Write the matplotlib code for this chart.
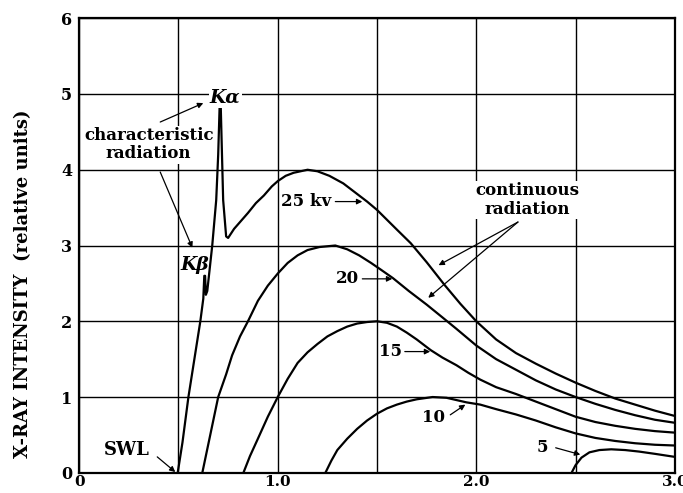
import numpy as np
from matplotlib import pyplot as plt

# Continuous spectra (wavelength in angstroms, intensity in relative units)
wl_25 = [0.496, 0.52, 0.55, 0.58, 0.61, 0.625, 0.630, 0.634, 0.638, 0.645, 0.67, 0.69,
         0.70, 0.707, 0.713, 0.725, 0.74, 0.75, 0.78, 0.82, 0.85, 0.89, 0.93, 0.97, 1.0,
         1.04, 1.08, 1.15, 1.2, 1.26, 1.33, 1.39, 1.45, 1.5, 1.55, 1.6, 1.67, 1.75, 1.84,
         1.92, 2.0, 2.1, 2.2, 2.3, 2.4, 2.5, 2.6, 2.7, 2.8, 2.9, 3.0]
i_25 = [0.0, 0.4, 1.0, 1.5, 2.0, 2.3, 2.6, 2.6, 2.35, 2.4, 3.0, 3.6,
        4.2, 4.82, 4.82, 3.6, 3.12, 3.1, 3.22, 3.34, 3.43, 3.56, 3.66, 3.78, 3.85,
        3.92, 3.96, 4.0, 3.98, 3.92, 3.82, 3.7, 3.58, 3.47, 3.34, 3.21, 3.03, 2.78, 2.48,
        2.23, 2.0, 1.76, 1.58, 1.44, 1.31, 1.19, 1.08, 0.98, 0.9, 0.82, 0.75]

wl_20 = [0.62, 0.64, 0.66, 0.70, 0.74, 0.77, 0.81, 0.85, 0.9, 0.95, 1.0, 1.05, 1.1, 1.15,
         1.21, 1.29, 1.35, 1.41, 1.47, 1.52, 1.58, 1.66, 1.75, 1.83, 1.9, 2.0, 2.1, 2.2,
         2.3, 2.4, 2.5, 2.6, 2.7, 2.8, 2.9, 3.0]
i_20 = [0.0, 0.25, 0.5, 1.0, 1.3, 1.55, 1.8, 2.0, 2.27, 2.47, 2.63, 2.77, 2.87, 2.94,
        2.98, 3.0, 2.95, 2.87, 2.77, 2.68, 2.57, 2.4, 2.22, 2.05, 1.9, 1.68, 1.5, 1.36,
        1.22, 1.1, 1.0, 0.91, 0.83, 0.76, 0.7, 0.66]

wl_15 = [0.827, 0.86, 0.9, 0.95, 1.0, 1.05, 1.1, 1.15, 1.2, 1.25, 1.3, 1.35, 1.4, 1.45,
         1.5, 1.55, 1.6, 1.65, 1.7, 1.77, 1.83, 1.9, 1.96, 2.02, 2.1, 2.2, 2.3, 2.4, 2.5,
         2.6, 2.7, 2.8, 2.9, 3.0]
i_15 = [0.0, 0.22, 0.45, 0.74, 1.0, 1.24, 1.45, 1.59, 1.7, 1.8, 1.87, 1.93, 1.97, 1.99,
        2.0, 1.98, 1.93, 1.85, 1.76, 1.62, 1.52, 1.42, 1.32, 1.23, 1.13, 1.04, 0.94, 0.84,
        0.74, 0.67, 0.62, 0.58, 0.55, 0.53]

wl_10 = [1.24, 1.27, 1.3, 1.35, 1.4, 1.45, 1.5, 1.55, 1.6, 1.65, 1.7, 1.78, 1.85, 1.9,
         1.95, 2.02, 2.1, 2.2, 2.3, 2.4, 2.5, 2.6, 2.7, 2.8, 2.9, 3.0]
i_10 = [0.0, 0.16, 0.3, 0.45, 0.58, 0.69, 0.78, 0.85, 0.9, 0.94, 0.97, 1.0, 0.99, 0.96,
        0.93, 0.9, 0.84, 0.77, 0.69, 0.6, 0.52, 0.46, 0.42, 0.39, 0.37, 0.36]

wl_5 = [2.48, 2.5, 2.53, 2.57, 2.62, 2.68, 2.75, 2.82, 2.9, 3.0]
i_5 = [0.0, 0.1, 0.2, 0.27, 0.3, 0.31, 0.3, 0.28, 0.25, 0.21]

x_ticks = [0, 1.0, 2.0, 3.0]
x_tick_labels = ["0", "1.0", "2.0", "3.0"]
y_ticks = [0, 1, 2, 3, 4, 5, 6]

serif = "DejaVu Serif"
box = dict(facecolor="white", edgecolor="none", pad=1.0)

fig = plt.figure(figsize=[6.83, 4.93], dpi=100)
ax = fig.add_axes([0.116, 0.041, 0.872, 0.922])

for wl, inten in [(wl_25, i_25), (wl_20, i_20), (wl_15, i_15), (wl_10, i_10), (wl_5, i_5)]:
    ax.plot(wl, inten, color="black", lw=1.6, zorder=3, solid_joinstyle="round")

ax.set_xlim(0, 3.0)
ax.set_ylim(0, 6)
ax.set_xticks(x_ticks)
ax.set_xticklabels(x_tick_labels, fontfamily=serif, fontweight="bold", fontsize=11)
ax.set_xticks(np.arange(0.5, 3.0, 1.0), minor=True)
ax.set_yticks(y_ticks)
ax.set_yticklabels([str(v) for v in y_ticks], fontfamily=serif, fontweight="bold", fontsize=11.5)
ax.tick_params(which="both", length=0, pad=5)
ax.tick_params(axis="x", pad=1.5)
ax.grid(which="both", color="black", lw=1.0, zorder=1)
for s in ax.spines.values():
    s.set_linewidth(1.6)

fig.text(0.034, 0.424, "X-RAY INTENSITY  (relative units)", rotation=90,
         ha="center", va="center", fontfamily=serif, fontweight="bold", fontsize=13)

txt = dict(fontfamily=serif, fontweight="bold", fontsize=12, ha="center", va="center", zorder=4)
arrow = dict(arrowstyle="-|>", color="black", lw=0.9, mutation_scale=8, shrinkA=0, shrinkB=0)

# characteristic lines
ax.text(0.735, 4.95, "K\u03b1", fontstyle="italic", bbox=box,
        **{**txt, "fontsize": 13.5})
ax.text(0.584, 2.74, "K\u03b2", fontstyle="italic", **{**txt, "fontsize": 13.5})
ax.text(0.35, 4.33, "characteristic\nradiation", linespacing=1.1, bbox=box, **txt)
ax.annotate("", xy=(0.625, 4.88), xytext=(0.408, 4.63), arrowprops=arrow, zorder=4)
ax.annotate("", xy=(0.57, 2.97), xytext=(0.408, 3.97), arrowprops=arrow, zorder=4)

# voltage labels
ax.text(1.143, 3.58, "25 kv", **txt)
ax.annotate("", xy=(1.426, 3.58), xytext=(1.29, 3.58), arrowprops=arrow, zorder=4)
ax.text(1.35, 2.56, "20", **txt)
ax.annotate("", xy=(1.577, 2.56), xytext=(1.426, 2.56), arrowprops=arrow, zorder=4)
ax.text(1.567, 1.6, "15", **txt)
ax.annotate("", xy=(1.768, 1.6), xytext=(1.64, 1.6), arrowprops=arrow, zorder=4)
ax.text(1.783, 0.73, "10", **txt)
ax.annotate("", xy=(1.945, 0.9), xytext=(1.869, 0.765), arrowprops=arrow, zorder=4)
ax.text(2.333, 0.33, "5", **txt)
ax.annotate("", xy=(2.524, 0.24), xytext=(2.4, 0.33), arrowprops=arrow, zorder=4)

ax.text(0.242, 0.30, "SWL", **{**txt, "fontsize": 13})
ax.annotate("", xy=(0.484, 0.01), xytext=(0.393, 0.21), arrowprops=arrow, zorder=4)

ax.text(2.257, 3.6, "continuous\nradiation", linespacing=1.1, bbox=box, **txt)
ax.annotate("", xy=(1.81, 2.74), xytext=(2.21, 3.31), arrowprops=arrow, zorder=4)
ax.annotate("", xy=(1.758, 2.31), xytext=(2.21, 3.31), arrowprops=arrow, zorder=4)

plt.savefig("out.png", dpi=100)
